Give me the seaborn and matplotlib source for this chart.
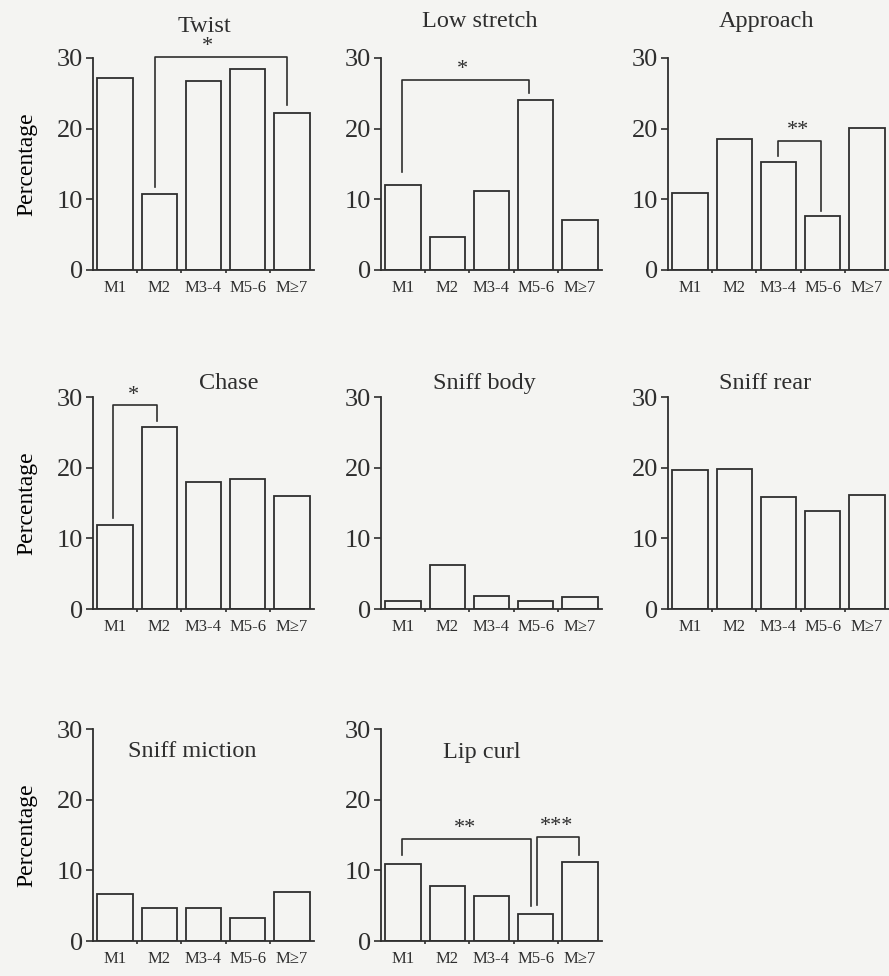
import numpy as np
import pandas as pd
import matplotlib
matplotlib.use("Agg")
import matplotlib.pyplot as plt
import seaborn as sns

# Data ================================================================================================================

months = ["M1", "M2", "M3-4", "M5-6", "M\u22657"]

twist = [27.1, 10.8, 26.8, 28.4, 22.2]
low_stretch = [12.0, 4.6, 11.2, 24.1, 7.1]
approach = [10.9, 18.5, 15.3, 7.6, 20.1]
chase = [11.9, 25.7, 18.0, 18.4, 16.0]
sniff_body = [1.2, 6.2, 1.9, 1.2, 1.7]
sniff_rear = [19.6, 19.8, 15.8, 13.9, 16.1]
sniff_miction = [6.6, 4.7, 4.7, 3.3, 7.0]
lip_curl = [10.9, 7.8, 6.4, 3.8, 11.2]

titles = ["Twist", "Low stretch", "Approach", "Chase", "Sniff body", "Sniff rear",
          "Sniff miction", "Lip curl"]
values = [twist, low_stretch, approach, chase, sniff_body, sniff_rear, sniff_miction, lip_curl]

# significance brackets: panel, left bar, right bar, top, left leg end, right leg end, star x, label
brackets = [
    (0, 0.9, 3.9, 30.2, 11.8, 23.4, 2.1, "*"),
    (1, -0.03, 2.85, 26.9, 13.9, 25.0, 1.35, "*"),
    (2, 1.99, 2.96, 18.3, 16.2, 8.3, 2.45, "**"),
    (3, -0.05, 0.94, 28.8, 12.9, 26.6, 0.42, "*"),
    (7, -0.03, 2.9, 14.5, 12.1, 5.0, 1.4, "**"),
    (7, 3.03, 3.97, 14.7, 5.1, 12.1, 3.47, "***"),
]

# Layout ==============================================================================================================

W, H = 889, 976
col_left = [93, 381, 668]
row_zero = [270, 609, 941]
ax_w, ax_h = 221, 212
title_pos = [(0.505, 1.15), (0.446, 1.17), (0.446, 1.17),
             (0.613, 1.065), (0.468, 1.065), (0.437, 1.065),
             (0.45, 0.895), (0.455, 0.89)]

bg = "#f4f4f2"
ink = "#2e2e2e"

plt.rcParams["font.family"] = ["Liberation Serif", "DejaVu Serif"]
plt.rcParams["text.color"] = ink
plt.rcParams["axes.edgecolor"] = ink
plt.rcParams["xtick.color"] = ink
plt.rcParams["ytick.color"] = ink

fig = plt.figure(figsize=(W / 100, H / 100), dpi=100, facecolor=bg)

axes = []
for i, (title, vals) in enumerate(zip(titles, values)):
    r, c = divmod(i, 3)
    left = col_left[c] / W
    bottom = 1 - row_zero[r] / H
    ax = fig.add_axes([left, bottom, ax_w / W, ax_h / H])
    ax.set_facecolor("none")
    df = pd.DataFrame({"month": months, "pct": vals})
    sns.barplot(data=df, x="month", y="pct", order=months, color=bg, saturation=1,
                edgecolor=ink, linewidth=1.3, width=0.8, errorbar=None, ax=ax)

    ax.set_ylim(0, 30)
    ax.set_xlim(-0.5, 4.5)
    ax.set_yticks([0, 10, 20, 30])
    ax.tick_params(axis="y", labelsize=19, length=5, width=1.2, direction="out", pad=2)
    ax.tick_params(axis="x", which="major", labelsize=12, length=0, pad=7)
    ax.set_xticks([0.5, 1.5, 2.5, 3.5], minor=True)
    ax.tick_params(axis="x", which="minor", length=2, width=1.2)

    ax.spines["top"].set_visible(False)
    ax.spines["right"].set_visible(False)
    ax.spines["left"].set_linewidth(1.3)
    ax.spines["bottom"].set_linewidth(1.3)

    ax.set_xlabel("")
    if c == 0:
        ax.set_ylabel("Percentage", fontsize=17)
        ax.yaxis.set_label_coords(-0.25, 0.5)
    else:
        ax.set_ylabel("")

    tx, ty = title_pos[i]
    ax.text(tx, ty, title, transform=ax.transAxes, ha="center", va="center", fontsize=17.5)
    axes.append(ax)

for p, x1, x2, top, y1, y2, sx, label in brackets:
    ax = axes[p]
    ax.plot([x1, x1, x2, x2], [y1, top, top, y2], color=ink, lw=1.2, clip_on=False)
    ax.text(sx, top + 0.1, label, ha="center", va="bottom", fontsize=16, color=ink)

fig.savefig("out.png", dpi=100, facecolor=bg)
